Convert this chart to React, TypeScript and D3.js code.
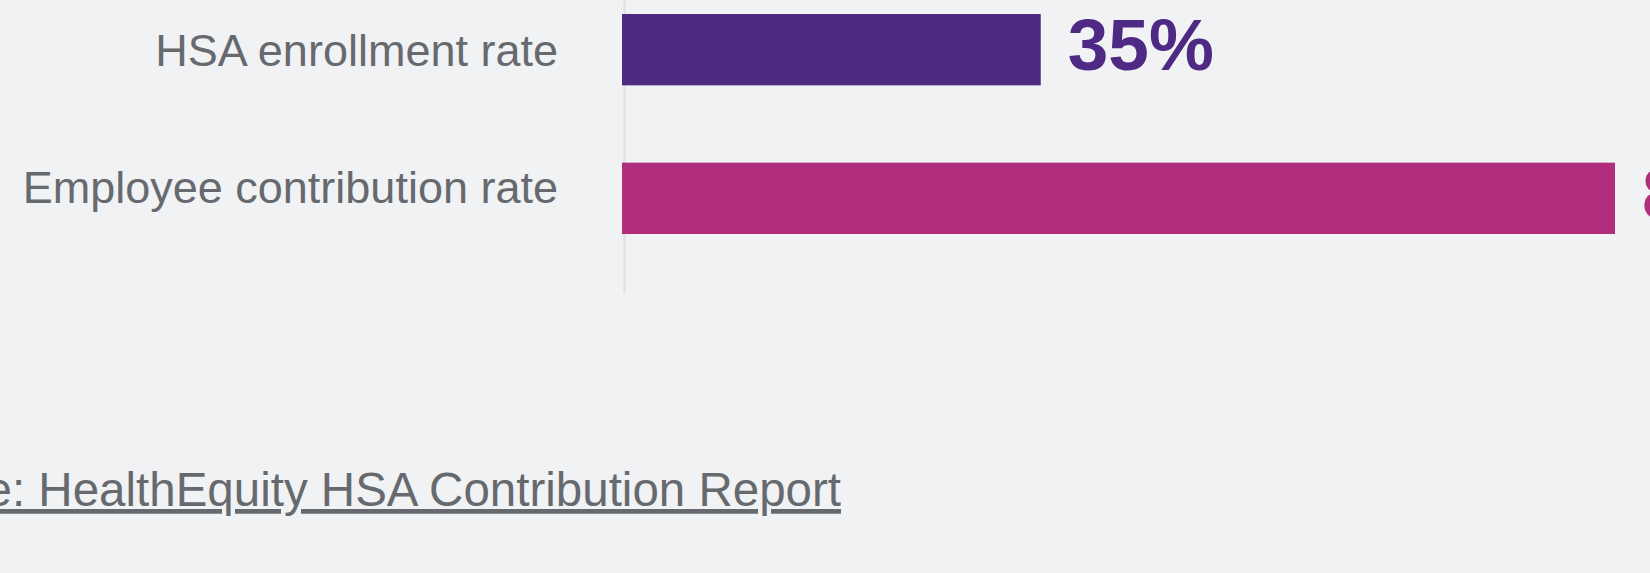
import React, { useEffect, useRef } from 'react';
import * as d3 from 'd3';

const categories = ['HSA enrollment rate', 'Employee contribution rate'];
const values = [35, 83];
const valueLabels = ['35%', '83%'];
const barColors = ['#4e2a84', '#b02e7b'];
const sourceText = 'Source: HealthEquity HSA Contribution Report';

const WIDTH = 1650;
const HEIGHT = 573;

const App: React.FC = () => {
  const svgRef = useRef<SVGSVGElement>(null);

  useEffect(() => {
    document.body.style.margin = '0';
    document.body.style.background = '#f1f2f4';
    if (!svgRef.current) return;

    const svg = d3.select(svgRef.current);
    svg.selectAll('*').remove();

    const font = '"Liberation Sans", Arial, Helvetica, sans-serif';

    svg.append('rect')
      .attr('width', WIDTH)
      .attr('height', HEIGHT)
      .attr('fill', '#f1f2f4');

    const data = categories.map((c, i) => ({
      category: c,
      value: values[i],
      label: valueLabels[i],
      color: barColors[i],
    }));

    const xScale = d3.scaleLinear()
      .domain([0, d3.max(values) || 0])
      .range([622, 1615]);

    const yScale = d3.scaleBand()
      .domain(categories)
      .range([14, 234])
      .paddingInner(0.52)
      .paddingOuter(0);

    // category labels sit slightly off the bar centres in the original
    const labelScale = d3.scalePoint()
      .domain(categories)
      .range([50, 187]);

    // baseline axis
    svg.append('line')
      .attr('x1', xScale(0) + 2.5)
      .attr('x2', xScale(0) + 2.5)
      .attr('y1', 0)
      .attr('y2', 293)
      .attr('stroke', '#e2e3e6')
      .attr('stroke-width', 2.5);

    const rows = svg.selectAll('.row')
      .data(data)
      .enter()
      .append('g')
      .attr('class', 'row');

    rows.append('rect')
      .attr('x', xScale(0))
      .attr('y', d => yScale(d.category) || 0)
      .attr('width', d => xScale(d.value) - xScale(0))
      .attr('height', yScale.bandwidth())
      .attr('fill', d => d.color);

    rows.append('text')
      .attr('x', 558)
      .attr('y', d => (labelScale(d.category) || 0) + 16)
      .attr('text-anchor', 'end')
      .style('font-family', font)
      .style('font-size', '45px')
      .style('fill', '#666a6e')
      .text(d => d.category);

    rows.append('text')
      .attr('x', d => xScale(d.value) + 27)
      .attr('y', d => (yScale(d.category) || 0) + yScale.bandwidth() / 2 - 5.5)
      .attr('dy', '0.36em')
      .style('font-family', font)
      .style('font-size', '73px')
      .style('font-weight', 'bold')
      .style('fill', d => d.color)
      .text(d => d.label);

    // source link
    svg.append('text')
      .attr('x', 841)
      .attr('y', 506)
      .attr('text-anchor', 'end')
      .style('font-family', font)
      .style('font-size', '47.5px')
      .style('fill', '#666a6e')
      .style('text-decoration', 'underline')
      .text(sourceText);
  }, []);

  return (
    <svg
      ref={svgRef}
      width={WIDTH}
      height={HEIGHT}
      style={{ position: 'absolute', left: 0, top: 0, display: 'block' }}
    />
  );
};

export default App;
